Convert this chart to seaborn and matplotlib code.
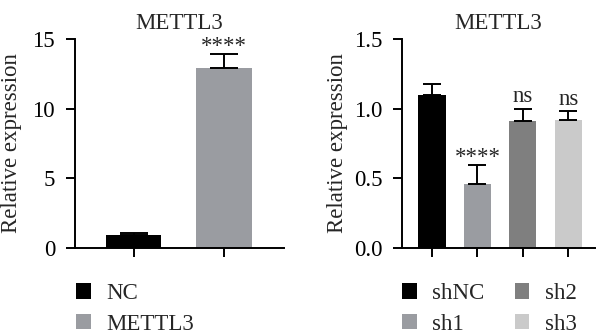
import matplotlib
matplotlib.use("Agg")
import matplotlib.pyplot as plt
import seaborn as sns
import pandas as pd
import numpy as np
from matplotlib.patches import Patch

# Data
left_groups = ["NC", "METTL3"]
left_means = [0.9, 12.9]
left_err = [0.15, 1.0]
left_colors = ["#000000", "#9a9ca1"]
left_sig = ["", "****"]

right_groups = ["shNC", "sh1", "sh2", "sh3"]
right_means = [1.10, 0.46, 0.91, 0.92]
right_err = [0.08, 0.135, 0.09, 0.06]
right_colors = ["#000000", "#9a9ca1", "#7f7f7f", "#cacaca"]
right_sig = ["", "****", "ns", "ns"]

title_text = "METTL3"
ylabel_text = "Relative expression"

sns.set_style("ticks")
plt.rcParams['font.family'] = ['Liberation Serif', 'DejaVu Serif']
FS = 16.5

W, H = 600, 336
fig = plt.figure(figsize=(W/100, H/100), dpi=100)

def px_axes(x0, x1, ytop, ybot):
    return fig.add_axes([x0/W, 1-ybot/H, (x1-x0)/W, (ybot-ytop)/H])

def draw(ax, groups, means, errs, colors, sig, ymax, yticks, fmt, xlim, width, capsize):
    df = pd.DataFrame({"group": groups, "value": means})
    sns.barplot(data=df, x="group", y="value", hue="group", palette=colors,
                dodge=False, width=width, ax=ax, legend=False, saturation=1,
                edgecolor="none", linewidth=0)
    x = np.arange(len(groups))
    ax.errorbar(x, means, yerr=[np.zeros(len(errs)), errs], fmt="none",
                ecolor="black", elinewidth=1.4, capsize=capsize, capthick=1.4, zorder=1)
    for xi, m, e, s in zip(x, means, errs, sig):
        if s == "ns":
            ax.annotate(s, (xi, m + e), xytext=(0, 4.5), textcoords="offset points",
                        ha="center", va="baseline", fontsize=FS)
        elif s:
            ax.annotate(s, (xi, m + e), xytext=(0, 1.5), textcoords="offset points",
                        ha="center", va="baseline", fontsize=FS)
    ax.set_ylim(0, ymax)
    ax.set_xlim(*xlim)
    ax.set_yticks(yticks)
    ax.set_yticklabels([fmt.format(v) for v in yticks], fontsize=FS)
    ax.set_xticks(x)
    ax.set_xticklabels([])
    ax.set_xlabel("")
    ax.set_ylabel(ylabel_text, fontsize=FS)
    ax.set_title(title_text, fontsize=FS, pad=7)
    for sp in ["top", "right"]:
        ax.spines[sp].set_visible(False)
    for sp in ["left", "bottom"]:
        ax.spines[sp].set_linewidth(1.4)
        ax.spines[sp].set_color("black")
    ax.tick_params(axis="both", length=6.8, width=1.4, colors="black", pad=7.5)
    ax.tick_params(axis="x", pad=3)

axL = px_axes(75, 284, 39, 248)
draw(axL, left_groups, left_means, left_err, left_colors, left_sig, 15,
     [0, 5, 10, 15], "{:.0f}", (-0.65, 1.67), 0.62, 10.4)
axR = px_axes(402, 595, 39, 248)
draw(axR, right_groups, right_means, right_err, right_colors, right_sig, 1.5,
     [0.0, 0.5, 1.0, 1.5], "{:.1f}", (-0.66, 3.59), 0.6, 6.5)

# y-label positions in pixels (center x)
for ax, xc in [(axL, 12), (axR, 337)]:
    x0 = ax.get_position().x0 * W
    w = ax.get_position().width * W
    ax.yaxis.set_label_coords((xc - x0) / w, 0.5)
    ax.yaxis.label.set_va("center")

def make_legend(ax, groups, colors, ncol, anchor_px):
    handles = [Patch(facecolor=c, edgecolor="none", label=g) for g, c in zip(groups, colors)]
    leg = ax.legend(handles=handles, ncol=ncol, frameon=False, fontsize=FS,
                    loc="upper left", bbox_to_anchor=(anchor_px[0]/W, 1-anchor_px[1]/H),
                    bbox_transform=fig.transFigure, borderpad=0, borderaxespad=0,
                    handlelength=0.65, handleheight=0.65, handletextpad=0.68,
                    labelspacing=0.42, columnspacing=1.3)
    return leg

make_legend(axL, left_groups, left_colors, 1, (76, 283))
make_legend(axR, right_groups, right_colors, 2, (402, 283))

fig.savefig("out.png", dpi=100)
